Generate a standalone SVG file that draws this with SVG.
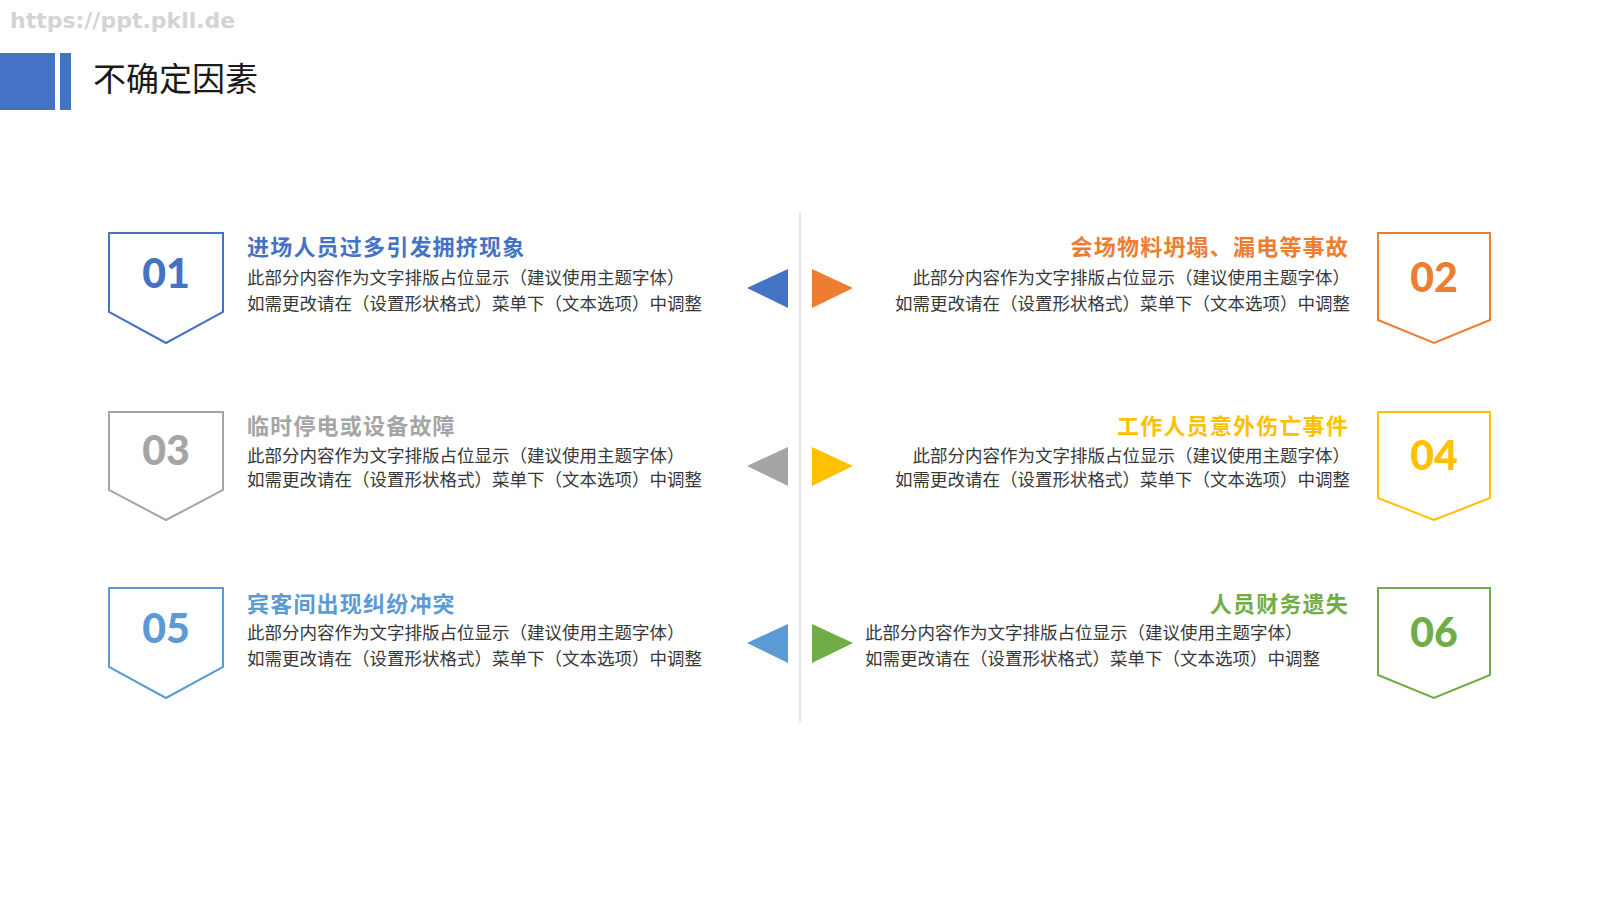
<svg xmlns="http://www.w3.org/2000/svg" width="1600" height="900" viewBox="0 0 1600 900">
  <style>
    .wm { font-family: "DejaVu Sans", "Liberation Sans", sans-serif; font-weight: 700; font-size: 22px; fill: #d4d4d4; }
    .head { font-family: "Noto Sans CJK SC", "Noto Sans", sans-serif; font-size: 33px; fill: #1a1a1a; }
    .num { font-family: Lato, "Liberation Sans", sans-serif; font-weight: 900; font-size: 41px; text-anchor: middle; }
    .ttl { font-family: "Noto Sans CJK SC", "Noto Sans", sans-serif; font-weight: 700; font-size: 22px; letter-spacing: 1.2px; }
    .body { font-family: "Noto Sans CJK SC", "Noto Sans", sans-serif; font-size: 17.5px; fill: #383838; }
    .end { text-anchor: end; }
    .shield { fill: #ffffff; stroke-width: 2; }
  </style>
  <rect width="1600" height="900" fill="#ffffff"/>

  <g id="watermark">
    <text class="wm" x="10" y="28">https://ppt.pkll.de</text>
  </g>

  <g id="header">
    <rect x="0" y="53" width="55" height="57" fill="#4472C4"/>
    <rect x="60" y="53" width="11" height="57" fill="#4472C4"/>
    <text class="head" x="93" y="91">不确定因素</text>
  </g>

  <g id="connectors">
    <line x1="800" y1="212" x2="800" y2="722" stroke="#d0d0d0" stroke-width="1"/>
    <polygon points="747,288 788,269 788,308" fill="#4472C4"/>
    <polygon points="812,269 853,288 812,308" fill="#ED7D31"/>
    <polygon points="747,466 788,447 788,486" fill="#A5A5A5"/>
    <polygon points="812,447 853,466 812,486" fill="#FFC000"/>
    <polygon points="747,643 788,624 788,663" fill="#5B9BD5"/>
    <polygon points="812,624 853,643 812,663" fill="#70AD47"/>
  </g>

  <g id="item01">
    <path class="shield" d="M109,233 H223 V312 L166,343 L109,312 Z" stroke="#4472C4"/>
    <text class="num" x="166" y="288" fill="#4472C4">01</text>
    <text class="ttl" x="247" y="255" fill="#4472C4">进场人员过多引发拥挤现象</text>
    <text class="body" x="247" y="284">此部分内容作为文字排版占位显示（建议使用主题字体）</text>
    <text class="body" x="247" y="309.5">如需更改请在（设置形状格式）菜单下（文本选项）中调整</text>
  </g>

  <g id="item02">
    <path class="shield" d="M1378,233 H1490 V320 L1434,343 L1378,320 Z" stroke="#ED7D31"/>
    <text class="num" x="1434" y="292" fill="#ED7D31">02</text>
    <text class="ttl end" x="1349" y="255" fill="#ED7D31">会场物料坍塌、漏电等事故</text>
    <text class="body end" x="1350" y="284">此部分内容作为文字排版占位显示（建议使用主题字体）</text>
    <text class="body end" x="1350" y="309.5">如需更改请在（设置形状格式）菜单下（文本选项）中调整</text>
  </g>

  <g id="item03">
    <path class="shield" d="M109,412 H223 V490 L166,520 L109,490 Z" stroke="#A5A5A5"/>
    <text class="num" x="166" y="465" fill="#A5A5A5">03</text>
    <text class="ttl" x="247" y="433.5" fill="#A5A5A5">临时停电或设备故障</text>
    <text class="body" x="247" y="461.5">此部分内容作为文字排版占位显示（建议使用主题字体）</text>
    <text class="body" x="247" y="486">如需更改请在（设置形状格式）菜单下（文本选项）中调整</text>
  </g>

  <g id="item04">
    <path class="shield" d="M1378,412 H1490 V498 L1434,520 L1378,498 Z" stroke="#FFC000"/>
    <text class="num" x="1434" y="470" fill="#FFC000">04</text>
    <text class="ttl end" x="1349" y="433.5" fill="#FFC000">工作人员意外伤亡事件</text>
    <text class="body end" x="1350" y="461.5">此部分内容作为文字排版占位显示（建议使用主题字体）</text>
    <text class="body end" x="1350" y="486">如需更改请在（设置形状格式）菜单下（文本选项）中调整</text>
  </g>

  <g id="item05">
    <path class="shield" d="M109,588 H223 V667 L166,698 L109,667 Z" stroke="#5B9BD5"/>
    <text class="num" x="166" y="643" fill="#5B9BD5">05</text>
    <text class="ttl" x="247" y="611.5" fill="#5B9BD5">宾客间出现纠纷冲突</text>
    <text class="body" x="247" y="639">此部分内容作为文字排版占位显示（建议使用主题字体）</text>
    <text class="body" x="247" y="664.5">如需更改请在（设置形状格式）菜单下（文本选项）中调整</text>
  </g>

  <g id="item06">
    <path class="shield" d="M1378,588 H1490 V675 L1434,698 L1378,675 Z" stroke="#70AD47"/>
    <text class="num" x="1434" y="647" fill="#70AD47">06</text>
    <text class="ttl end" x="1349" y="611.5" fill="#70AD47">人员财务遗失</text>
    <text class="body" x="865" y="639">此部分内容作为文字排版占位显示（建议使用主题字体）</text>
    <text class="body" x="865" y="664.5">如需更改请在（设置形状格式）菜单下（文本选项）中调整</text>
  </g>
</svg>
